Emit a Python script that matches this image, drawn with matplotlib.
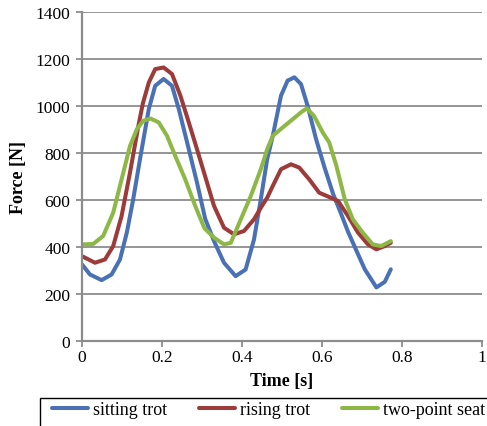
import numpy as np
import matplotlib.pyplot as plt
from matplotlib.patches import Rectangle

plt.rcParams['font.family'] = ['Liberation Serif', 'DejaVu Serif']

""" Data read off the reference """

t_sitting = [0, 0.02, 0.049, 0.074, 0.095, 0.112, 0.128, 0.145, 0.167, 0.183, 0.204,
             0.225, 0.242, 0.267, 0.2875, 0.308, 0.33, 0.355, 0.384, 0.409, 0.43,
             0.447, 0.463, 0.477, 0.4975, 0.514, 0.531, 0.5475, 0.564, 0.585, 0.606,
             0.628, 0.648, 0.665, 0.682, 0.707, 0.736, 0.757, 0.772]
f_sitting = [326, 283, 259, 283, 347, 461, 603, 774, 987, 1086, 1115,
             1086, 987, 816, 674, 520, 425, 333, 276, 304, 432,
             603, 774, 873, 1044, 1108, 1122, 1093, 1001, 860, 740,
             625, 540, 465, 400, 305, 228, 252, 305]

t_rising = [0, 0.0325, 0.0575, 0.078, 0.099, 0.12, 0.141, 0.152, 0.167, 0.183, 0.204,
            0.225, 0.246, 0.267, 0.2875, 0.308, 0.33, 0.355, 0.38, 0.405, 0.43,
            0.45, 0.463, 0.477, 0.4975, 0.5225, 0.543, 0.568, 0.593, 0.615, 0.64,
            0.665, 0.69, 0.715, 0.736, 0.757, 0.772]
f_rising = [361, 333, 347, 404, 532, 717, 916, 1010, 1100, 1157, 1164,
            1136, 1044, 930, 816, 700, 575, 482, 454, 468, 518,
            575, 610, 660, 731, 752, 738, 688, 631, 615, 596,
            532, 461, 411, 390, 404, 418]

t_twopoint = [0, 0.028, 0.053, 0.078, 0.099, 0.12, 0.137, 0.153, 0.171, 0.192, 0.2125,
              0.233, 0.258, 0.283, 0.306, 0.33, 0.355, 0.372, 0.397, 0.422, 0.447,
              0.463, 0.477, 0.502, 0.527, 0.5475, 0.562, 0.58, 0.602, 0.618, 0.636,
              0.657, 0.677, 0.702, 0.727, 0.748, 0.772]
f_twopoint = [411, 413, 447, 546, 688, 830, 901, 937, 947, 930, 873,
              788, 688, 575, 480, 440, 411, 418, 518, 617, 731,
              816, 873, 909, 944, 973, 990, 958, 887, 845, 745,
              603, 518, 461, 411, 404, 425]

labels = ['sitting trot', 'rising trot', 'two-point seat']
colors = ['#4A71B6', '#9C3B39', '#8DB845']

x_ticks = [0, 0.2, 0.4, 0.6, 0.8, 1]
x_ticklabels = ['0', '0.2', '0.4', '0.6', '0.8', '1']
y_ticks = np.arange(0, 1401, 200)


W, H = 487, 427
fig = plt.figure(figsize=(W / 100, H / 100), dpi=100)
ax = fig.add_axes([82/W, 1 - 342/H, 400/W, 329/H])

series = [(t_sitting, f_sitting), (t_rising, f_rising), (t_twopoint, f_twopoint)]
for (t, f), lab, c in zip(series, labels, colors):
    ax.plot(t, f, color=c, lw=2.9, label=lab, solid_capstyle='round', solid_joinstyle='round')

ax.set_xlim(0, 1)
ax.set_ylim(0, 1400)
ax.set_xticks(x_ticks)
ax.set_xticklabels(x_ticklabels)
ax.set_yticks(y_ticks)

ax.grid(axis='y', color='#8c8c8c', lw=1.3)
ax.set_axisbelow(True)
for s in ['top', 'right']:
    ax.spines[s].set_visible(False)
for s in ['left', 'bottom']:
    ax.spines[s].set_color('#8c8c8c')
    ax.spines[s].set_linewidth(1.6)
ax.tick_params(color='#8c8c8c', width=1.3, length=4.5, labelsize=12.5)
ax.tick_params(axis='x', pad=1)
ax.tick_params(axis='y', pad=4)

ax.set_xlabel('Time [s]', fontsize=13, fontweight='bold', labelpad=5)
ax.set_ylabel('Force [N]', fontsize=13, fontweight='bold', labelpad=6)

# legend box runs past the right and bottom edges, as in the reference
fig.legend(loc='upper left', bbox_to_anchor=(52/W, 1 - 402/H), ncol=3,
           fontsize=13, frameon=False, handlelength=2.0, handletextpad=0.28,
           columnspacing=1.75, borderaxespad=0, borderpad=0)
fig.add_artist(Rectangle((40/W, -0.1), 1.0, 0.1 + 1 - 399/H, transform=fig.transFigure,
                         fill=False, ec='black', lw=1.0))

fig.savefig('out.png', dpi=100)
